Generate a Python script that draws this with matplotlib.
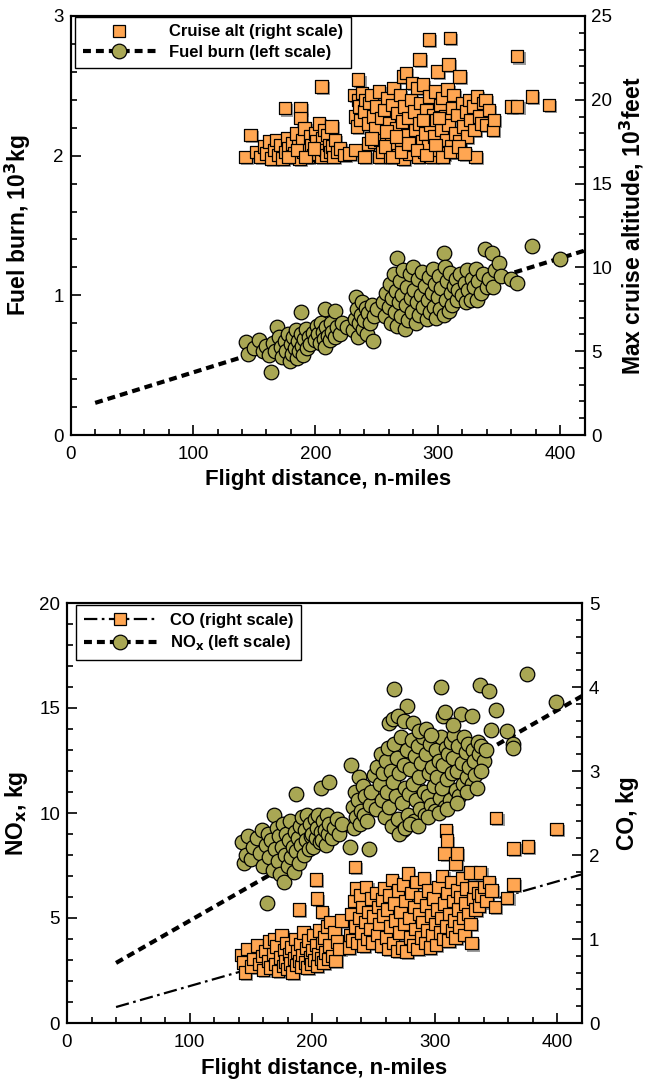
import matplotlib
matplotlib.use("Agg")
import matplotlib.pyplot as plt
from matplotlib.lines import Line2D
from matplotlib.ticker import MultipleLocator
import matplotlib.patheffects as pe

plt.rcParams['font.family'] = ['Liberation Sans', 'DejaVu Sans']

# ---------------- data: top panel ----------------
alt_pts = [
    (143,16.6),(147,17.9),(152,16.9),(155,16.6),(158,17.2),(160,16.8),(162,17.5),(164,16.5),(166,17.0),(168,17.6),
    (170,16.7),(171,17.3),(173,16.5),(175,19.5),(175,16.9),(177,17.7),(178,17.1),(180,16.6),(181,17.4),(183,16.8),
    (184,18.0),(186,17.2),(187,16.5),(188,19.5),(188,18.9),(189,17.6),(190,16.9),(191,18.3),(193,17.0),(194,16.6),
    (196,17.8),(197,17.3),(198,16.7),(200,18.0),(201,17.5),(202,16.8),(203,18.6),(204,17.1),(205,20.8),(205,16.6),
    (206,17.7),(207,18.2),(208,17.0),(209,16.7),(210,17.9),(211,17.3),(212,16.9),(213,18.4),(214,17.2),(215,16.6),
    (216,17.6),(218,16.9),(220,17.1),(224,16.7),(228,16.8),(233,17.0),(240,16.6),(243,17.4),(248,17.5),(252,16.6),
    (232,20.3),(233,19.0),(234,18.4),(235,21.2),(235,20.0),(236,19.6),(237,18.8),(238,20.4),(240,19.3),(241,20.0),
    (243,18.6),(244,19.8),(246,20.3),(247,19.0),(249,18.3),(250,19.6),(252,20.5),(253,17.6),(254,18.9),(255,16.9),
    (256,19.4),(258,17.4),(259,20.1),(260,18.6),(261,16.6),(262,17.9),(263,19.7),(264,20.7),(265,17.1),(266,18.3),
    (267,19.2),(268,16.7),(269,20.3),(270,17.6),(271,18.7),(272,21.4),(272,16.5),(273,19.6),(274,21.6),(275,17.9),
    (276,18.9),(277,16.8),(278,20.0),(279,21.0),(280,17.3),(281,19.3),(282,18.2),(283,20.7),(284,16.6),(285,22.4),
    (285,18.6),(286,19.8),(287,17.5),(288,20.9),(289,16.9),(290,18.0),(291,19.4),(292,17.2),(293,23.6),(293,20.2),
    (294,18.5),(295,16.6),(296,19.1),(297,17.8),(298,20.5),(299,18.8),(300,21.7),(300,17.0),(302,19.7),(303,18.2),
    (304,20.1),(305,16.8),(306,19.0),(307,17.6),(308,20.6),(309,22.1),(309,18.5),(310,23.7),(311,17.2),(312,19.5),
    (313,20.3),(314,18.0),(315,16.9),(316,19.1),(318,21.4),(318,17.5),(320,19.8),(321,18.4),(323,19.3),(324,17.8),
    (326,20.0),(327,18.8),(329,19.6),(330,18.2),(331,16.6),(332,20.2),(334,19.0),(336,18.6),(337,19.8),(339,20.0),
    (340,18.5),(342,19.4),(345,18.2),(346,18.8),(360,19.6),(365,19.6),(365,22.6),(377,20.2),(391,19.7),
    (178,16.6),(185,17.0),(192,16.6),(199,17.1),(257,17.2),(263,16.6),(270,16.9),(276,17.4),(283,17.0),(291,16.7),
    (298,17.3),(304,16.6),(310,16.9),(317,17.2),(322,16.8),(246,17.7),(258,18.1),(266,17.8),(288,18.8),(301,18.9),
]
alt_x = [p[0] for p in alt_pts]
alt_y = [p[1] for p in alt_pts]

fuel_pts = [
    (143,0.665),(145,0.58),(150,0.62),(154,0.68),(157,0.60),(160,0.64),(162,0.57),(164,0.45),(165,0.66),(167,0.60),
    (169,0.77),(170,0.70),(172,0.63),(173,0.56),(175,0.67),(176,0.60),(178,0.72),(179,0.53),(180,0.65),(181,0.58),
    (182,0.70),(183,0.62),(184,0.75),(185,0.55),(186,0.67),(187,0.60),(188,0.88),(188,0.72),(189,0.64),(190,0.57),
    (191,0.69),(192,0.76),(193,0.62),(195,0.70),(196,0.65),(198,0.73),(200,0.68),(201,0.78),(202,0.72),(204,0.66),
    (205,0.80),(206,0.74),(207,0.69),(208,0.90),(208,0.63),(209,0.77),(210,0.71),(212,0.68),(213,0.80),(214,0.74),
    (216,0.89),(216,0.70),(218,0.77),(220,0.72),(222,0.80),(226,0.77),
    (231,0.75),(232,0.83),(233,0.99),(234,0.90),(235,0.70),(236,0.80),(237,0.86),(238,0.95),(239,0.76),(240,0.82),
    (241,0.91),(242,0.72),(243,0.87),(245,0.80),(246,0.93),(247,0.67),(248,0.85),(250,0.90),
    (255,0.95),(257,0.85),(258,1.02),(260,0.92),(261,1.08),(262,0.80),(263,0.98),(264,1.15),(265,0.88),(266,1.03),
    (267,1.27),(267,0.78),(268,0.95),(269,1.10),(270,0.85),(271,1.00),(272,1.18),(273,0.76),(274,0.93),(275,1.06),
    (276,0.82),(277,1.15),(278,0.98),(279,0.88),(280,1.20),(281,1.04),(282,0.80),(283,0.95),(284,1.12),(285,0.86),
    (286,1.00),(287,1.17),(288,0.92),(290,1.07),(291,0.83),(292,0.97),(293,1.13),(294,0.88),(295,1.02),(296,1.19),
    (297,0.92),(298,1.08),(299,0.84),(300,0.99),(301,1.14),(302,0.90),(303,1.05),(305,1.30),(305,0.86),(306,1.20),
    (307,0.97),(308,1.10),(309,0.89),(310,1.16),(311,1.02),(312,0.93),(313,1.07),(315,1.12),(316,0.97),(317,1.04),
    (318,1.15),(320,1.00),(322,1.09),(323,0.95),(324,1.18),(325,1.04),(327,0.97),(328,1.12),(330,1.06),(331,1.19),
    (332,0.97),(333,1.10),(335,1.02),(337,1.15),(339,1.33),(340,1.06),(342,1.12),(344,1.30),(345,1.06),(347,1.18),
    (350,1.23),(352,1.14),(360,1.12),(365,1.09),(377,1.35),(400,1.26),
]
fuel_x = [p[0] for p in fuel_pts]
fuel_y = [p[1] for p in fuel_pts]

fuel_fit_x = [20, 420]
fuel_fit_y = [0.23, 1.32]

# ---------------- data: bottom panel ----------------
nox_pts = [
    (143,8.6),(144,7.6),(146,8.0),(148,8.9),(150,7.8),(152,8.4),(155,8.8),(157,8.1),(159,9.2),(160,7.5),
    (162,8.5),(163,5.7),(164,9.0),(165,7.9),(166,8.7),(168,7.3),(169,9.9),(170,8.3),(171,9.3),(172,7.7),
    (173,8.9),(174,7.1),(175,8.4),(176,9.5),(177,6.7),(178,8.0),(179,9.0),(180,7.5),(181,8.7),(182,9.6),
    (183,7.9),(184,8.4),(185,7.2),(186,9.1),(187,10.9),(187,8.2),(188,8.8),(189,7.6),(190,9.4),(191,8.5),
    (192,9.8),(193,8.0),(194,9.2),(195,8.7),(196,9.9),(197,8.3),(198,9.5),(199,8.9),(200,9.0),(201,8.4),
    (202,9.7),(203,8.8),(204,9.3),(205,9.9),(206,8.6),(207,11.2),(207,9.1),(208,8.7),(209,9.6),(210,9.2),
    (211,8.5),(212,9.9),(213,9.0),(214,11.5),(214,9.5),(216,8.8),(218,9.3),(220,9.7),(222,9.0),(224,9.5),
    (231,8.4),(232,12.3),(233,10.3),(234,9.3),(235,11.0),(236,9.8),(237,10.6),(238,11.7),(239,9.5),(240,10.1),
    (241,11.3),(242,9.9),(243,10.8),(245,9.6),(246,8.3),(247,10.4),(248,11.0),(250,11.8),(252,10.2),(253,12.2),
    (255,11.4),(256,12.8),(257,10.6),(258,11.9),(259,9.8),(260,12.5),(261,11.0),(262,13.1),(263,14.3),(263,10.3),
    (264,12.0),(265,9.4),(266,11.5),(267,15.9),(267,13.3),(268,10.8),(269,12.6),(270,9.7),(271,11.9),(272,13.6),
    (273,10.5),(274,9.2),(275,12.3),(276,11.2),(277,15.1),(277,13.0),(278,9.9),(279,10.9),(280,12.1),(281,13.5),
    (282,11.4),(283,9.6),(284,12.7),(285,10.6),(286,13.2),(287,11.7),(288,10.2),(289,12.4),(290,13.6),(291,11.0),
    (292,9.9),(293,12.8),(294,10.8),(295,11.9),(296,13.3),(297,10.4),(298,12.2),(299,11.3),(300,10.1),(301,13.0),
    (302,11.7),(303,12.5),(304,10.7),(305,16.0),(305,13.6),(306,11.2),(307,14.6),(307,12.3),(308,10.3),(309,13.1),
    (310,11.6),(311,12.8),(312,10.6),(313,13.4),(314,11.9),(315,12.6),(316,13.7),(317,11.1),(318,12.0),(319,13.2),
    (320,10.8),(321,14.7),(322,12.4),(323,11.4),(324,13.6),(325,12.9),(326,11.7),(327,13.3),(328,12.2),(330,14.6),
    (330,11.4),(331,13.0),(332,12.5),(333,11.8),(335,13.4),(336,12.8),(337,16.1),(338,13.2),(340,12.5),(342,13.0),
    (344,15.8),(346,13.95),(350,14.9),(359,13.9),(364,13.3),(364,13.1),(375,16.6),(399,15.3),
    (266,14.5),(270,14.6),(275,14.4),(282,14.3),(287,13.9),(293,14.0),(297,13.7),(308,14.8),(315,14.2),(271,9.0),
    (276,9.3),(280,9.5),(286,9.4),(294,9.8),(303,10.0),(310,10.2),(318,10.5),(326,11.0),(334,11.2),(338,12.0),
]
nox_x = [p[0] for p in nox_pts]
nox_y = [p[1] for p in nox_pts]

co_pts = [
    (142,0.81),(144,0.72),(145,0.60),(147,0.88),(150,0.67),(152,0.76),(155,0.92),(157,0.70),(159,0.80),(160,0.63),
    (162,0.86),(164,0.74),(165,0.97),(166,0.66),(168,0.82),(169,1.00),(170,0.70),(171,0.91),(172,0.62),(174,0.78),
    (175,1.05),(176,0.68),(177,0.87),(178,0.73),(179,0.95),(180,0.64),(181,0.82),(182,0.71),(183,0.90),(184,0.60),
    (185,0.77),(186,1.00),(187,0.69),(188,0.85),(189,1.35),(189,0.74),(190,0.94),(191,0.67),(192,0.81),(193,1.08),
    (194,0.72),(195,0.89),(196,0.66),(197,0.98),(198,0.78),(199,0.70),(200,0.87),(201,1.05),(202,0.75),(203,1.71),
    (203,0.93),(204,1.48),(204,0.68),(205,0.82),(206,1.10),(207,0.77),(208,1.32),(208,0.95),(209,0.72),(210,1.02),
    (211,0.84),(212,1.15),(213,0.76),(214,0.92),(215,1.20),(216,0.80),(218,1.08),(219,0.74),(220,0.97),(222,0.88),
    (224,1.22),
    (230,0.90),(231,1.05),(232,1.30),(233,0.98),(234,1.45),(235,1.86),(235,1.15),(236,1.60),(237,0.95),(238,1.25),
    (239,1.52),(240,1.08),(241,1.38),(242,0.92),(243,1.20),(244,1.62),(245,1.00),(246,1.32),(247,1.12),(248,1.48),
    (249,0.96),(250,1.27),(252,1.55),(253,1.05),(254,1.38),(255,1.18),(256,0.92),(257,1.47),(258,1.28),(259,1.60),
    (260,1.02),(261,1.35),(262,0.88),(263,1.52),(264,1.15),(265,1.70),(266,0.95),(267,1.42),(268,1.22),(269,0.86),
    (270,1.58),(271,1.08),(272,1.32),(273,0.90),(274,1.65),(275,1.18),(276,1.45),(277,0.85),(278,1.78),(279,1.25),
    (280,1.02),(281,1.55),(282,0.92),(283,1.38),(284,1.12),(285,1.68),(286,0.88),(287,1.30),(288,1.50),(289,1.02),
    (290,1.20),(291,1.72),(292,0.95),(293,1.40),(294,1.10),(295,1.58),(296,0.90),(297,1.28),(298,1.05),(299,1.48),
    (300,1.18),(301,0.93),(302,1.35),(303,1.62),(304,1.08),(305,1.25),(306,1.75),(307,1.00),(308,2.02),(308,1.42),
    (309,2.29),(309,1.15),(310,2.17),(310,1.55),(311,0.98),(312,1.30),(313,1.68),(314,1.10),(315,1.45),(316,1.22),
    (317,1.90),(317,1.02),(318,2.02),(318,1.58),(319,1.35),(320,1.15),(321,1.50),(322,1.72),(323,1.25),(324,1.05),
    (325,1.42),(326,1.60),(327,1.30),(329,1.79),(329,1.18),(330,0.95),(331,1.48),(332,1.62),(333,1.35),(335,1.55),
    (336,1.40),(337,1.79),(338,1.52),(340,1.62),(342,1.45),(344,1.68),(346,1.58),(349,1.38),(350,2.44),(359,1.49),
    (364,1.65),(364,2.08),(376,2.10),(399,2.31),
]
co_x = [p[0] for p in co_pts]
co_y = [p[1] for p in co_pts]

nox_fit_x = [40, 420]
nox_fit_y = [2.86, 15.57]
co_fit_x = [40, 420]
co_fit_y = [0.19, 1.77]

# ---------------- styles ----------------
ORANGE = '#FFA652'
OLIVE = '#A9A754'
SQ_MS = 9.0
CI_MS = 10.5
shadow = [pe.SimplePatchShadow(offset=(1.5, -1.5), shadow_rgbFace='0.45', alpha=0.7), pe.Normal()]

TICK_FS = 13.5
XLAB_FS = 16
YLAB_FS = 16.5
LEG_FS = 12

fig = plt.figure(figsize=(6.45, 10.81), dpi=100)
W, H = 645.0, 1081.0


def style_axes(ax, twin, ymaj, ymin):
    ax.yaxis.set_major_locator(MultipleLocator(ymaj))
    ax.yaxis.set_minor_locator(MultipleLocator(ymin))
    if twin:
        ax.tick_params(which='both', direction='in', left=False, right=True,
                       labelleft=False, labelright=True, top=False, bottom=False)
    else:
        ax.xaxis.set_major_locator(MultipleLocator(100))
        ax.xaxis.set_minor_locator(MultipleLocator(20))
        ax.tick_params(which='both', direction='in', right=False, top=False)
        ax.tick_params(axis='x', which='major', pad=8)
    ax.tick_params(which='major', length=7.5, width=1.2, labelsize=TICK_FS)
    ax.tick_params(axis='y', which='major', pad=5)
    ax.tick_params(which='minor', length=4, width=1.2)
    for s in ax.spines.values():
        s.set_linewidth(1.5)


DASH = (0, (1.9, 1.2))
DASHDOT = (0, (6, 2, 1.2, 2))

# ================= top panel =================
ax1 = fig.add_axes([70.7 / W, 1 - 435 / H, (584.5 - 70.7) / W, 419 / H])
ax1.plot(fuel_fit_x, fuel_fit_y, color='black', lw=3.0, ls=DASH, zorder=1)
ax1.scatter(fuel_x, fuel_y, s=CI_MS ** 2, marker='o', facecolor=OLIVE, edgecolor='black',
            linewidth=0.9, zorder=2)
ax1.set_xlim(0, 420)
ax1.set_ylim(0, 3)
style_axes(ax1, False, 1, 0.2)
ax1.set_xlabel('Flight distance, n-miles', fontsize=XLAB_FS, fontweight='bold')
ax1.set_ylabel('Fuel burn, 10$^\\mathbf{3}$kg', fontsize=YLAB_FS, fontweight='bold')
ax1.xaxis.set_label_coords(0.5, -0.080)
ax1.yaxis.set_label_coords(-0.073, 0.5)

ax2 = ax1.twinx()
sc = ax2.scatter(alt_x, alt_y, s=SQ_MS ** 2, marker='s', facecolor=ORANGE, edgecolor='black',
                 linewidth=0.9, zorder=2)
sc.set_path_effects(shadow)
ax2.set_ylim(0, 25)
style_axes(ax2, True, 5, 1)
ax2.set_ylabel('Max cruise altitude, 10$^\\mathbf{3}$feet', fontsize=YLAB_FS, fontweight='bold')
ax2.yaxis.set_label_coords(1.064, 0.5)

h_alt = Line2D([], [], ls='none', marker='s', ms=SQ_MS, mfc=ORANGE, mec='black', mew=0.9)
h_fuel = Line2D([], [], color='black', lw=3.0, ls=DASH, marker='o', ms=CI_MS,
                mfc=OLIVE, mec='black', mew=0.9)
leg = ax2.legend([h_alt, h_fuel], ['Cruise alt (right scale)', 'Fuel burn (left scale)'],
                 loc='upper left', bbox_to_anchor=(0.009, 0.998), borderaxespad=0,
                 prop={'weight': 'bold', 'size': LEG_FS}, handlelength=4.4, handletextpad=0.8,
                 borderpad=0.45, labelspacing=0.35, fancybox=False, framealpha=1,
                 edgecolor='black')
leg.get_frame().set_linewidth(1.0)

# ================= bottom panel =================
ax3 = fig.add_axes([67 / W, 1 - 1023 / H, (582 - 67) / W, 420 / H])
ax3.plot(nox_fit_x, nox_fit_y, color='black', lw=3.0, ls=DASH, zorder=1)
ax3.scatter(nox_x, nox_y, s=CI_MS ** 2, marker='o', facecolor=OLIVE, edgecolor='black',
            linewidth=0.9, zorder=2)
ax3.set_xlim(0, 420)
ax3.set_ylim(0, 20)
style_axes(ax3, False, 5, 1)
ax3.set_xlabel('Flight distance, n-miles', fontsize=XLAB_FS, fontweight='bold')
ax3.set_ylabel('NO$_\\mathbf{x}$, kg', fontsize=YLAB_FS, fontweight='bold')
ax3.xaxis.set_label_coords(0.5, -0.083)
ax3.yaxis.set_label_coords(-0.071, 0.5)

ax4 = ax3.twinx()
ax4.plot(co_fit_x, co_fit_y, color='black', lw=1.6, ls=DASHDOT, zorder=1)
sc2 = ax4.scatter(co_x, co_y, s=SQ_MS ** 2, marker='s', facecolor=ORANGE, edgecolor='black',
                  linewidth=0.9, zorder=2)
sc2.set_path_effects(shadow)
ax4.set_ylim(0, 5)
style_axes(ax4, True, 1, 0.2)
ax4.set_ylabel('CO, kg', fontsize=YLAB_FS, fontweight='bold')
ax4.yaxis.set_label_coords(1.066, 0.5)

h_co = Line2D([], [], color='black', lw=1.6, ls=DASHDOT, marker='s', ms=SQ_MS,
              mfc=ORANGE, mec='black', mew=0.9)
h_nox = Line2D([], [], color='black', lw=3.0, ls=DASH, marker='o', ms=CI_MS,
               mfc=OLIVE, mec='black', mew=0.9)
leg2 = ax4.legend([h_co, h_nox], ['CO (right scale)', 'NO$_\\mathbf{x}$ (left scale)'],
                  loc='upper left', bbox_to_anchor=(0.0176, 0.995), borderaxespad=0,
                  prop={'weight': 'bold', 'size': LEG_FS}, handlelength=4.4, handletextpad=0.8,
                  borderpad=0.45, labelspacing=0.35, fancybox=False, framealpha=1,
                  edgecolor='black')
leg2.get_frame().set_linewidth(1.0)

fig.savefig('out.png', dpi=100)
